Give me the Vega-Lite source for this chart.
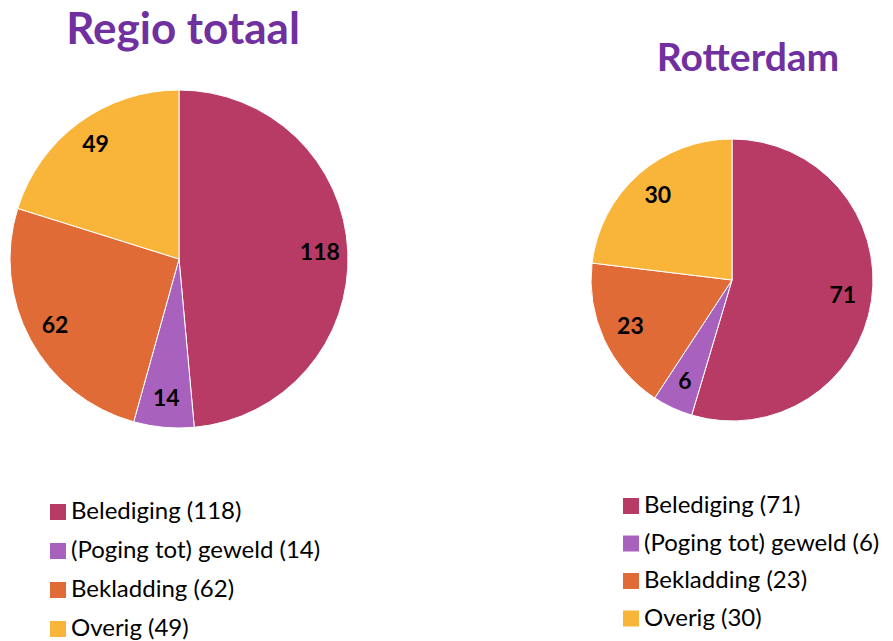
{
  "$schema": "https://vega.github.io/schema/vega-lite/v6.json",
  "background": "white",
  "padding": {"left": 0, "top": 9, "right": 0, "bottom": 0},
  "config": {"view": {"stroke": null}},
  "spacing": 224,
  "resolve": {"scale": {"color": "independent", "theta": "independent"}, "legend": {"color": "independent"}},
  "hconcat": [
    {
      "width": 358,
      "height": 338,
      "title": {"text": "Regio totaal", "fontSize": 44, "font": "Lato", "fontWeight": "bold", "color": "#7030A0", "baseline": "alphabetic", "offset": 0, "anchor": "middle", "dx": 4},
      "data": {"values": [
        {"cat": "Belediging (118)", "n": 118, "idx": 1},
        {"cat": "(Poging tot) geweld (14)", "n": 14, "idx": 2},
        {"cat": "Bekladding (62)", "n": 62, "idx": 3},
        {"cat": "Overig (49)", "n": 49, "idx": 4}
      ]},
      "encoding": {
        "theta": {"field": "n", "type": "quantitative", "stack": true},
        "order": {"field": "idx", "type": "quantitative"}
      },
      "layer": [
        {
          "mark": {"type": "arc", "outerRadius": 169, "stroke": "white", "strokeWidth": 1},
          "encoding": {
            "color": {"field": "cat", "type": "nominal",
              "scale": {"domain": ["Belediging (118)", "(Poging tot) geweld (14)", "Bekladding (62)", "Overig (49)"], "range": ["#B83B66", "#A862BE", "#E06B36", "#F8B53A"]},
              "legend": {"orient": "none", "legendX": 46, "legendY": 410, "title": null, "padding": 0, "symbolType": "square", "symbolSize": 256, "symbolStrokeWidth": 0, "symbolOpacity": 1, "labelFontSize": 24, "labelFont": "Lato", "labelColor": "black", "labelOffset": 1, "rowPadding": 15, "labelLimit": 400}
            }
          }
        },
        {
          "mark": {"type": "text", "radius": 141, "fontSize": 23, "fontWeight": "bold", "font": "Lato", "color": "black"},
          "encoding": {"text": {"field": "n", "type": "quantitative"}}
        }
      ]
    },
    {
      "width": 300,
      "height": 380,
      "title": {"text": "Rotterdam", "fontSize": 39, "font": "Lato", "fontWeight": "bold", "color": "#7030A0", "baseline": "alphabetic", "offset": -20, "anchor": "middle", "dx": 16},
      "data": {"values": [
        {"cat": "Belediging (71)", "n": 71, "idx": 1},
        {"cat": "(Poging tot) geweld (6)", "n": 6, "idx": 2},
        {"cat": "Bekladding (23)", "n": 23, "idx": 3},
        {"cat": "Overig (30)", "n": 30, "idx": 4}
      ]},
      "encoding": {
        "theta": {"field": "n", "type": "quantitative", "stack": true},
        "order": {"field": "idx", "type": "quantitative"}
      },
      "layer": [
        {
          "mark": {"type": "arc", "outerRadius": 141, "stroke": "white", "strokeWidth": 1},
          "encoding": {
            "color": {"field": "cat", "type": "nominal",
              "scale": {"domain": ["Belediging (71)", "(Poging tot) geweld (6)", "Bekladding (23)", "Overig (30)"], "range": ["#B83B66", "#A862BE", "#E06B36", "#F8B53A"]},
              "legend": {"orient": "none", "legendX": 37, "legendY": 404, "title": null, "padding": 0, "symbolType": "square", "symbolSize": 256, "symbolStrokeWidth": 0, "symbolOpacity": 1, "labelFontSize": 24, "labelFont": "Lato", "labelColor": "black", "labelOffset": 1, "rowPadding": 13.5, "labelLimit": 400}
            }
          }
        },
        {
          "mark": {"type": "text", "radius": 112, "fontSize": 23, "fontWeight": "bold", "font": "Lato", "color": "black"},
          "encoding": {"text": {"field": "n", "type": "quantitative"}}
        }
      ]
    }
  ]
}
